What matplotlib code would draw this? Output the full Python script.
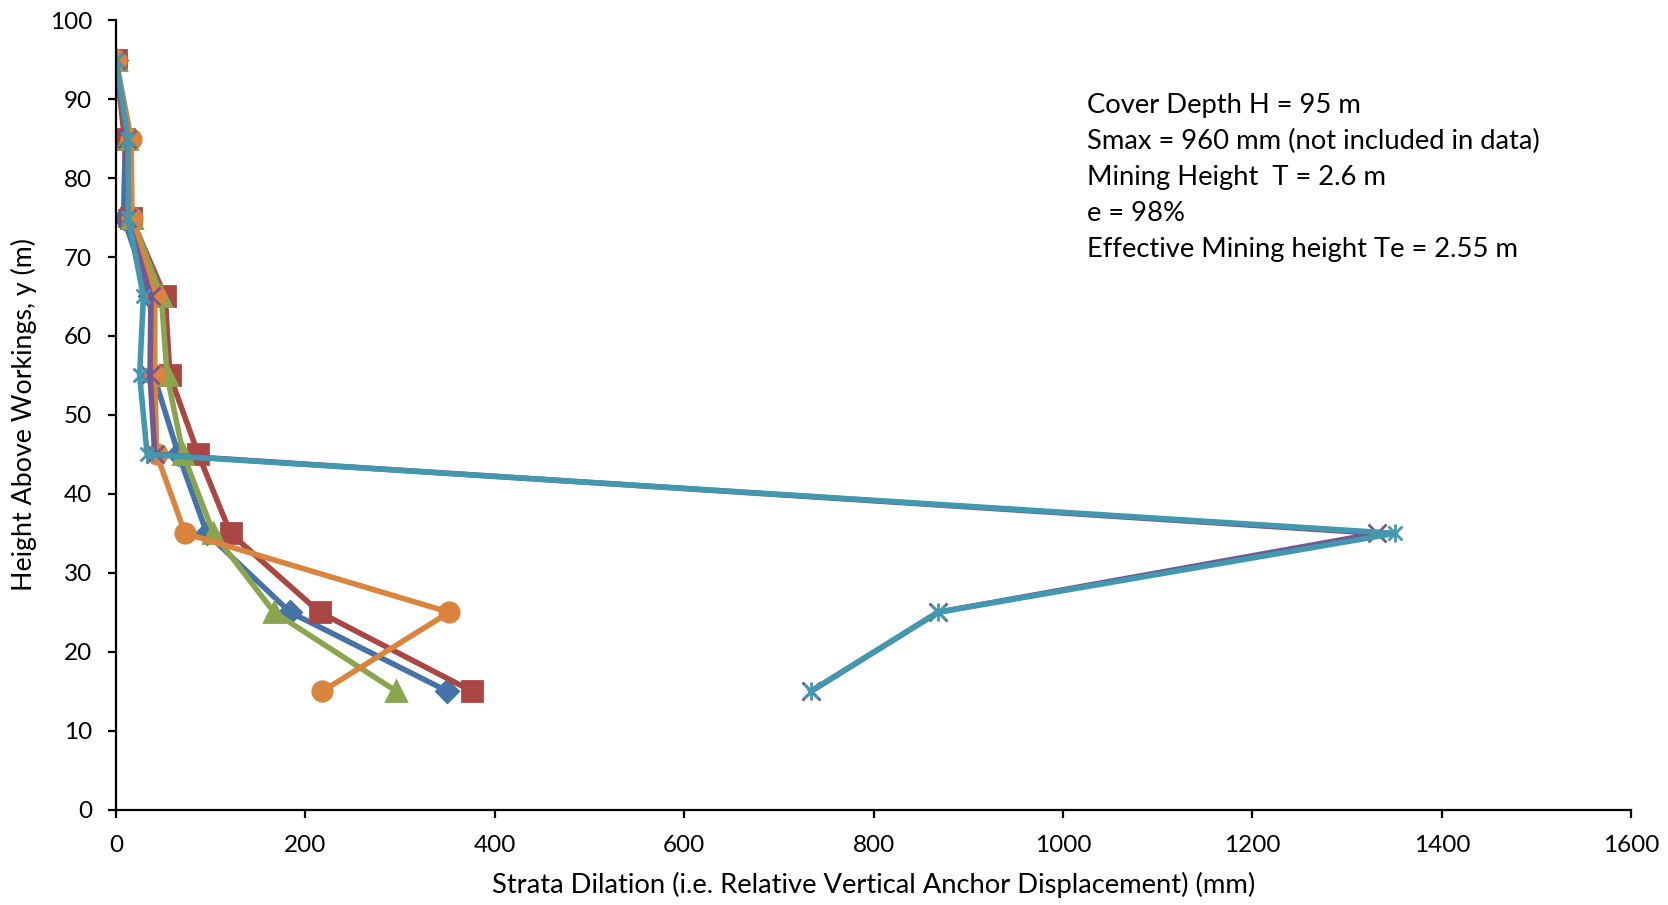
"""Strata dilation vs height above workings."""

import matplotlib
matplotlib.use("Agg")
import matplotlib.pyplot as plt
from matplotlib.path import Path

plt.rcParams["font.family"] = ["Lato", "DejaVu Sans"]

height = [95, 85, 75, 65, 55, 45, 35, 25, 15]

dil_blue = [0, 10, 8, 36, 40, 66, 96, 184, 350]
dil_red = [0, 9, 16, 52, 57, 87, 121, 215, 376]
dil_green = [0, 12, 17, 48, 54, 71, 103, 167, 296]
dil_orange = [0, 16, 17, 41, 41, 43, 73, 352, 218]
dil_purple = [0, 12, 12, 37, 36, 41, 1332, 868, 734]
dil_cyan = [0, 13, 13, 29, 25, 33, 1351, 868, 734]

notes = [
    "Cover Depth H = 95 m",
    "Smax = 960 mm (not included in data)",
    "Mining Height  T = 2.6 m",
    "e = 98%",
    "Effective Mining height Te = 2.55 m",
]

# excel style star: an x with a vertical bar through it
star = Path(
    [(-1, -1), (1, 1), (-1, 1), (1, -1), (0, -1.3), (0, 1.3)],
    [Path.MOVETO, Path.LINETO, Path.MOVETO, Path.LINETO, Path.MOVETO, Path.LINETO],
)

series = [
    (dil_blue, "#4572A7", "D", 11),
    (dil_red, "#AA4643", "s", 14),
    (dil_green, "#89A54E", "^", 14),
    (dil_orange, "#DB843D", "o", 14),
    (dil_purple, "#71588F", "x", 13),
    (dil_cyan, "#4198AF", star, 13),
]

fig = plt.figure(figsize=(16.68, 9.05), dpi=100)
ax = fig.add_axes([0.0695, 0.1054, 0.9085, 0.8723])

for xs, col, mk, ms in series:
    ax.plot(xs, height, color=col, lw=4, marker=mk, ms=ms,
            mfc=col, mec=col, mew=2)

ax.set_xlim(0, 1600)
ax.set_ylim(0, 100)
ax.set_xticks(range(0, 1601, 200))
ax.set_yticks(range(0, 101, 10))
for side in ("top", "right"):
    ax.spines[side].set_visible(False)
for side in ("left", "bottom"):
    ax.spines[side].set_linewidth(1.6)
    ax.spines[side].set_color("black")
ax.tick_params(direction="out", length=6, width=1.6, labelsize=17.5)
ax.tick_params(axis="x", pad=12)
ax.tick_params(axis="y", pad=11)

ax.set_xlabel("Strata Dilation (i.e. Relative Vertical Anchor Displacement) (mm)",
              fontsize=19.7, labelpad=12)
ax.set_ylabel("Height Above Workings, y (m)", fontsize=19.3, labelpad=9)

ax.text(0.641, 0.9075, "\n".join(notes), transform=ax.transAxes,
        fontsize=19.7, va="top", ha="left", linespacing=1.55)

fig.savefig("out.png", dpi=100)
